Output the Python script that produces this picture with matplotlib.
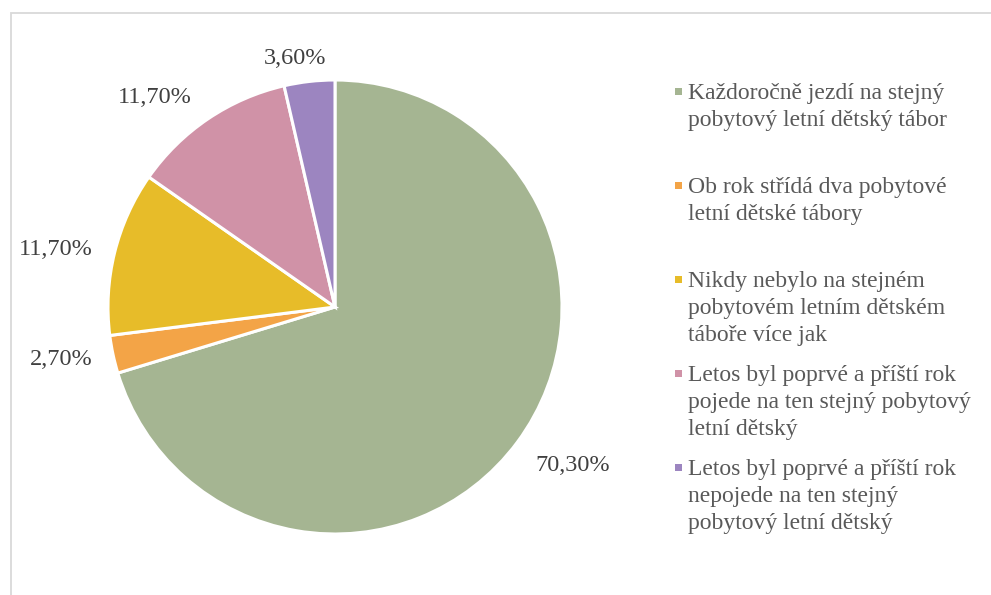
import matplotlib
matplotlib.use("Agg")
import matplotlib.pyplot as plt
from matplotlib.patches import Rectangle
import numpy as np

categories = [
    "Každoročně jezdí na stejný\npobytový letní dětský tábor",
    "Ob rok střídá dva pobytové\nletní dětské tábory",
    "Nikdy nebylo na stejném\npobytovém letním dětském\ntáboře více jak",
    "Letos byl poprvé a příští rok\npojede na ten stejný pobytový\nletní dětský",
    "Letos byl poprvé a příští rok\nnepojede na ten stejný\npobytový letní dětský",
]
values = [70.3, 2.7, 11.7, 11.7, 3.6]
colors = ["#A5B592", "#F3A447", "#E7BC29", "#D092A7", "#9C85C0"]

plt.rcParams['font.family'] = ['Liberation Serif', 'DejaVu Serif']

W, H = 991, 595
fig = plt.figure(figsize=(W / 100, H / 100), dpi=100)

# chart frame (partially cropped)
fig.patches.append(Rectangle((10.5 / W, -0.1), 1.2, (H - 12.5) / H + 0.1,
                             transform=fig.transFigure, fill=False,
                             edgecolor="#D9D9D9", linewidth=1.3))

cx, cy, R = 335, H - 307, 227
half = 1.3 * R
ax = fig.add_axes([(cx - half) / W, (cy - half) / H, 2 * half / W, 2 * half / H])

wedges = ax.pie(values, colors=colors, startangle=90, counterclock=False,
                wedgeprops=dict(edgecolor="white", linewidth=2.2))[0]
ax.set_xlim(-1.3, 1.3)
ax.set_ylim(-1.3, 1.3)
ax.set_aspect('equal')
ax.axis('off')

# data-label placement (layout: distance in radii, angular nudge in degrees)
label_dist = [1.254, 1.225, 1.26, 1.225, 1.12]
label_shift = [3.3, -1.7, 1.7, 6.3, 2.5]
for w, v, d, s in zip(wedges, values, label_dist, label_shift):
    ang = np.deg2rad((w.theta1 + w.theta2) / 2 + s)
    ax.text(d * np.cos(ang), d * np.sin(ang) - 0.01, f"{v:.2f}%".replace('.', ','),
            ha='center', va='center', fontsize=17.5, color="#404040", clip_on=False)

# legend
first_base = 99
step = 94
line_h = 27
for i, (lab, col) in enumerate(zip(categories, colors)):
    b = first_base + i * step
    m = b - 8
    fig.patches.append(Rectangle((675 / W, (H - m - 3.5) / H), 7 / W, 7 / H,
                                 transform=fig.transFigure, facecolor=col, edgecolor='none'))
    for j, line in enumerate(lab.split("\n")):
        fig.text(688 / W, (H - (b + j * line_h)) / H, line, ha='left',
                 va='baseline', fontsize=17, color="#595959")

fig.savefig("out.png", dpi=100)
